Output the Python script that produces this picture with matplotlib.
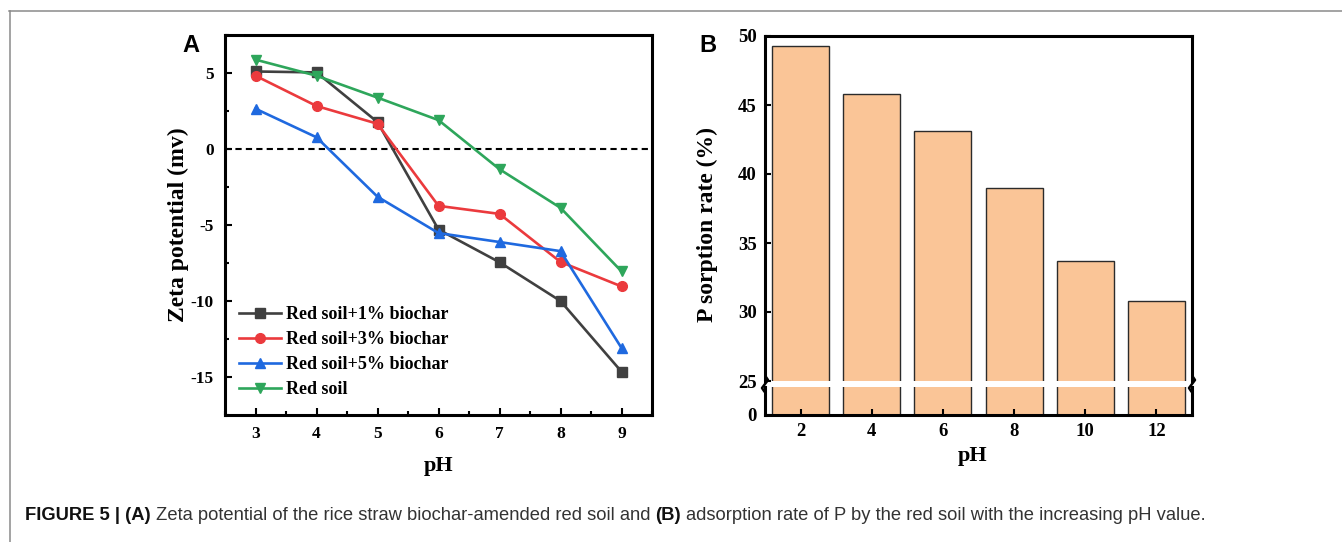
import matplotlib
matplotlib.use('Agg')
import matplotlib.pyplot as plt
from matplotlib.lines import Line2D
from matplotlib.ticker import MultipleLocator, FixedLocator
import numpy as np

plt.rcParams['axes.unicode_minus'] = False

W, H, DPI = 1342, 542, 100

# ---------------- data ----------------
ph_a = [3, 4, 5, 6, 7, 8, 9]
zeta_1pct = [5.10, 5.04, 1.77, -5.30, -7.45, -10.00, -14.65]
zeta_3pct = [4.82, 2.83, 1.66, -3.74, -4.27, -7.43, -9.04]
zeta_5pct = [2.65, 0.77, -3.14, -5.53, -6.12, -6.72, -13.09]
zeta_soil = [5.88, 4.82, 3.38, 1.90, -1.33, -3.87, -8.05]
series_labels = ['Red soil+1% biochar', 'Red soil+3% biochar',
                 'Red soil+5% biochar', 'Red soil']

ph_b = ['2', '4', '6', '8', '10', '12']
sorption_rate = [49.24, 45.83, 43.10, 38.95, 33.66, 30.83]

# ---------------- style ----------------
SERIF = ['Liberation Serif', 'DejaVu Serif']
SANS = ['Liberation Sans', 'DejaVu Sans']
colors = ['#404040', '#EB3A3D', '#1F69DF', '#2EA65B']
markers = ['s', 'o', '^', 'v']

fig = plt.figure(figsize=(W / DPI, H / DPI), dpi=DPI)


def rect(l, t, r, b):
    return [l / W, 1 - b / H, (r - l) / W, (b - t) / H]


def px(x, y):
    return x / W, 1 - y / H


SPINE_LW = 2.2

# ---------------- panel A ----------------
axA = fig.add_axes(rect(225, 35, 652, 415))
for vals, lab, c, m in zip([zeta_1pct, zeta_3pct, zeta_5pct, zeta_soil],
                           series_labels, colors, markers):
    axA.plot(ph_a, vals, color=c, marker=m, ms=7, lw=1.9, label=lab)
axA.axhline(0, color='black', ls=(0, (3, 2)), lw=1.5, zorder=1)
axA.set_xlim(2.5, 9.5)
axA.set_ylim(-17.5, 7.5)
axA.xaxis.set_major_locator(MultipleLocator(1))
axA.xaxis.set_minor_locator(MultipleLocator(0.5))
axA.yaxis.set_major_locator(MultipleLocator(5))
axA.yaxis.set_minor_locator(MultipleLocator(2.5))
axA.tick_params(which='both', direction='in', width=1.5, top=False, right=False)
axA.tick_params(which='major', length=5, pad=8)
axA.tick_params(which='minor', length=3)
for s in axA.spines.values():
    s.set_linewidth(SPINE_LW)
for lbl in axA.get_xticklabels() + axA.get_yticklabels():
    lbl.set_fontfamily(SERIF)
    lbl.set_fontweight('bold')
    lbl.set_fontsize(12.5)
leg = axA.legend(loc='lower left', bbox_to_anchor=(0.012, 0.020), frameon=False,
                 borderpad=0, handlelength=2.3, handletextpad=0.3,
                 labelspacing=0.45, numpoints=1,
                 prop={'family': SERIF, 'weight': 'bold', 'size': 13})

fig.text(*px(178, 225), 'Zeta potential (mv)', rotation=90, ha='center', va='center',
         fontfamily=SERIF, fontweight='bold', fontsize=17)
fig.text(*px(439, 466), 'pH', ha='center', va='center',
         fontfamily=SERIF, fontweight='bold', fontsize=16)
fig.text(*px(191, 45), 'A', ha='center', va='center',
         fontfamily=SANS, fontweight='bold', fontsize=17)

# ---------------- panel B (broken y axis) ----------------
axBt = fig.add_axes(rect(765, 36, 1192, 381))
axBb = fig.add_axes(rect(765, 387, 1192, 414.5))
xpos = np.arange(len(ph_b))
for ax in (axBt, axBb):
    ax.bar(xpos, sorption_rate, width=0.8, color='#FAC597',
           edgecolor='#2b2b2b', linewidth=1.0)
    ax.set_xlim(-0.5, len(ph_b) - 0.5)
    for s in ax.spines.values():
        s.set_linewidth(SPINE_LW)
    ax.tick_params(which='both', direction='in', width=1.5, length=4, pad=6,
                   top=False, right=False)

axBt.set_ylim(25, 50)
axBt.yaxis.set_major_locator(FixedLocator([25, 30, 35, 40, 45, 50]))
axBt.spines['bottom'].set_visible(False)
axBt.tick_params(axis='x', bottom=False, labelbottom=False)

axBb.set_ylim(0, 25)
axBb.yaxis.set_major_locator(FixedLocator([0]))
axBb.spines['top'].set_visible(False)
axBb.set_xticks(xpos)
axBb.set_xticklabels(ph_b)

for ax in (axBt, axBb):
    for lbl in ax.get_xticklabels() + ax.get_yticklabels():
        lbl.set_fontfamily(SERIF)
        lbl.set_fontweight('bold')
        lbl.set_fontsize(13.5)

# break marks (small zigzag on both spines)
for xb in (765, 1192):
    pts = [(xb - 1, 391), (xb - 3, 388), (xb, 384), (xb + 3, 380), (xb + 1, 377)]
    fig.add_artist(Line2D([px(*p)[0] for p in pts], [px(*p)[1] for p in pts],
                          color='black', lw=1.8, transform=fig.transFigure))

fig.text(*px(707, 225), 'P sorption rate (%)', rotation=90, ha='center', va='center',
         fontfamily=SERIF, fontweight='bold', fontsize=17)
fig.text(*px(973, 456), 'pH', ha='center', va='center',
         fontfamily=SERIF, fontweight='bold', fontsize=16)
fig.text(*px(708, 45), 'B', ha='center', va='center',
         fontfamily=SANS, fontweight='bold', fontsize=17)

# ---------------- frame lines ----------------
fig.add_artist(Line2D([px(9, 10.5)[0], px(1342, 10.5)[0]], [px(9, 10.5)[1], px(1342, 10.5)[1]],
                      color='#8a8a8a', lw=1.1, transform=fig.transFigure))
fig.add_artist(Line2D([px(9.5, 10.5)[0], px(9.5, 542)[0]], [px(9.5, 10.5)[1], px(9.5, 542)[1]],
                      color='#8a8a8a', lw=1.1, transform=fig.transFigure))

# ---------------- caption ----------------
pieces = [('FIGURE 5 | (A)', 'bold', '#111111'),
          ('Zeta potential of the rice straw biochar-amended red soil and', 'normal', '#333333'),
          ('(B)', 'bold', '#111111'),
          ('adsorption rate of P by the red soil with the increasing pH value.', 'normal', '#333333')]
cap_x0, cap_x1, cap_y = 25, 1204, 516
renderer = fig.canvas.get_renderer()


def layout_caption(size):
    texts = []
    x = cap_x0
    space = 0.28 * size * DPI / 72
    for txt, wt, col in pieces:
        t = fig.text(*px(x, cap_y), txt, ha='left', va='center', fontfamily=SANS,
                     fontweight=wt, fontsize=size, color=col)
        w = t.get_window_extent(renderer).width
        texts.append(t)
        x += w + space
    return texts, x - space


texts, end = layout_caption(11)
scale = (cap_x1 - cap_x0) / (end - cap_x0)
for t in texts:
    t.remove()
layout_caption(11 * scale)

fig.savefig('out.png', dpi=DPI)
